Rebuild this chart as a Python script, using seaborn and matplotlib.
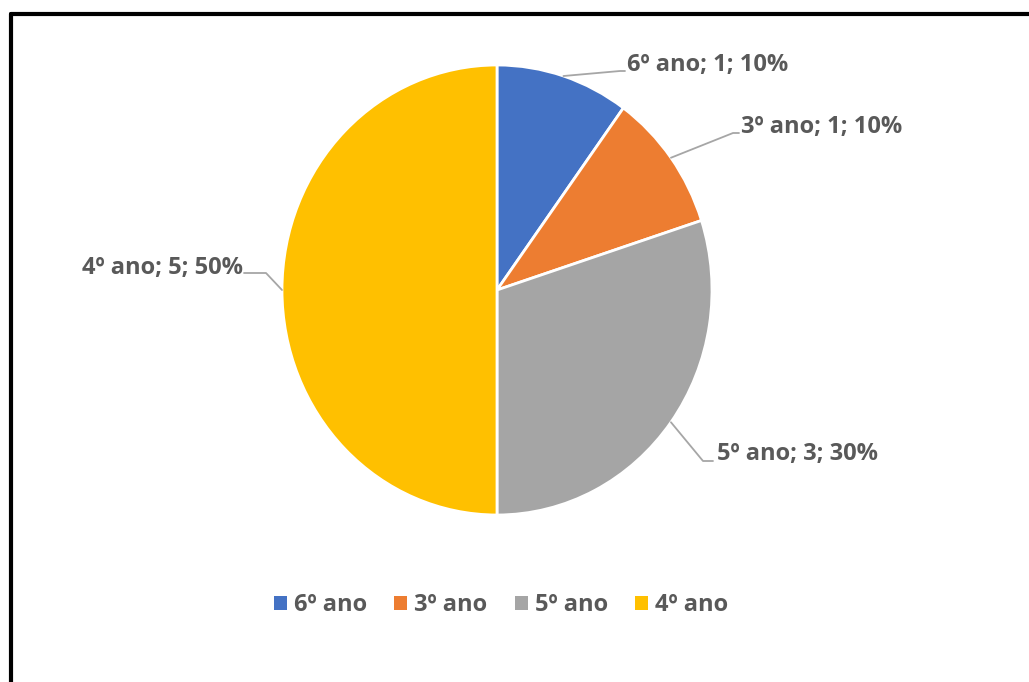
import matplotlib
matplotlib.use("Agg")
import matplotlib.pyplot as plt
from matplotlib.lines import Line2D
import numpy as np
import seaborn as sns

# Data
categories = ["6º ano", "3º ano", "5º ano", "4º ano"]
counts = [1, 1, 3, 5]
percents = ["10%", "10%", "30%", "50%"]
colors = ["#4472C4", "#ED7D31", "#A5A5A5", "#FFC000"]

sns.set_theme(style="white")
plt.rcParams["font.family"] = ["Open Sans", "DejaVu Sans"]

W, H = 1029, 682
fig = plt.figure(figsize=(W / 100, H / 100), dpi=100)
fig.patch.set_facecolor("white")

# pie box in pixels (centre and radii)
cx, cy, rx, ry = 497, 290, 215, 225
ax = fig.add_axes([(cx - rx) / W, (H - cy - ry) / H, 2 * rx / W, 2 * ry / H])

wedges, _ = ax.pie(counts, colors=colors, startangle=90, counterclock=False,
                   wedgeprops=dict(edgecolor="white", linewidth=2))
ax.set_aspect("auto")
ax.set_xlim(-1, 1)
ax.set_ylim(-1, 1)


def px(x, y):
    """pixel position -> data coords of the pie axes"""
    return (x - cx) / rx, (cy - y) / ry


text_color = "#595959"
line_color = "#A6A6A6"
fs = 17

# label text anchors (pixel) and leader-line elbows
label_layout = [
    dict(text=(627, 65), ha="left", elbow=[(620, 71), (625, 71)]),
    dict(text=(741, 127), ha="left", elbow=[(733, 133), (739, 133)]),
    dict(text=(717, 454), ha="left", elbow=[(703, 461), (713, 461)]),
    dict(text=(243, 268), ha="right", elbow=[(266, 273), (244, 273)]),
]

angle = 90.0
total = sum(counts)
for cat, n, pct, lay in zip(categories, counts, percents, label_layout):
    span = 360.0 * n / total
    mid = np.deg2rad(angle - span / 2)
    angle -= span
    sx, sy = np.cos(mid), np.sin(mid)
    pts = [(sx, sy)] + [px(*p) for p in lay["elbow"]]
    xs, ys = zip(*pts)
    ax.add_line(Line2D(xs, ys, color=line_color, lw=1.3, clip_on=False))
    tx, ty = px(*lay["text"])
    ax.text(tx, ty, f"{cat}; {n}; {pct}", ha=lay["ha"], va="center",
            fontsize=fs, fontweight="bold", color=text_color, clip_on=False)

leg = fig.legend(wedges, categories, loc="center", bbox_to_anchor=(501 / W, 1 - 605 / H),
                 ncol=4, frameon=False, fontsize=fs, handlelength=0.55, handleheight=0.55,
                 handletextpad=0.3, columnspacing=1.15)
for t in leg.get_texts():
    t.set_color(text_color)
    t.set_fontweight("bold")
for h in leg.legend_handles:
    h.set_edgecolor("none")

# frame lines along top and left edges
fig.add_artist(Line2D([11 / W, 1], [1 - 14 / H, 1 - 14 / H], color="black", lw=3,
                      transform=fig.transFigure))
fig.add_artist(Line2D([11 / W, 11 / W], [0, 1 - 14 / H], color="black", lw=3,
                      transform=fig.transFigure))

fig.savefig("out.png", dpi=100, facecolor="white")
